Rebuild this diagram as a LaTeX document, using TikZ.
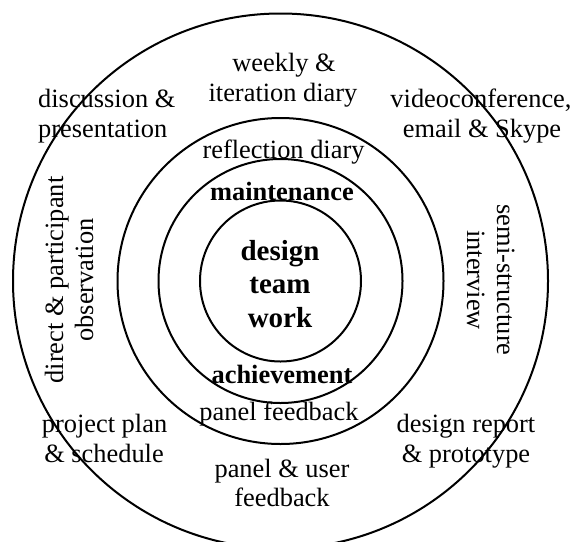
\documentclass[tikz,border=0pt]{standalone}
\usepackage{fontspec}
\setmainfont{Liberation Serif}
\begin{document}
\begin{tikzpicture}[x=1pt,y=-1pt,
  ring/.style={line width=2pt},
  lbl/.style={inner sep=0pt, anchor=base, font=\fontsize{26.4}{30}\selectfont},
  boldlbl/.style={inner sep=0pt, anchor=base, font=\fontsize{26.4}{30}\selectfont\bfseries},
  core/.style={inner sep=0pt, anchor=base, font=\fontsize{29}{33}\selectfont\bfseries}]
\useasboundingbox (0,0) rectangle (575,541);
\clip (0,0) rectangle (575,541);
\coordinate (c) at (280.5,281);
\draw[ring] (c) circle[radius=80.5pt];
\draw[ring] (c) circle[radius=122pt];
\draw[ring] (c) circle[radius=163pt];
\draw[ring] (c) circle[radius=267.5pt];
% outer ring
\node[lbl] (wk1) at (284,71) {weekly \&};
\node[lbl] (wk2) at (283,101) {iteration diary};
\node[lbl, anchor=base west] (ds1) at (38,107) {discussion \&};
\node[lbl, anchor=base west] (ds2) at (38,137) {presentation};
\node[lbl] (vc1) at (481,107) {videoconference,};
\node[lbl] (vc2) at (482,137) {email \& Skype};
\node[lbl, rotate=90] (ob1) at (63,280) {direct \& participant};
\node[lbl, rotate=90] (ob2) at (93,280) {observation};
\node[lbl, rotate=-90] (si1) at (497,280) {semi-structure};
\node[lbl, rotate=-90] (si2) at (467,280) {interview};
\node[lbl] (pp1) at (104.5,432) {project plan};
\node[lbl] (pp2) at (104,462) {\& schedule};
\node[lbl] (dr1) at (466,432) {design report};
\node[lbl] (dr2) at (466,462) {\& prototype};
\node[lbl] (pu1) at (282,477) {panel \& user};
\node[lbl] (pu2) at (282,506) {feedback};
% middle rings
\node[lbl] (rf) at (283.5,158) {reflection diary};
\node[boldlbl] (mt) at (282,200) {maintenance};
\node[boldlbl] (ac) at (282,383) {achievement};
\node[lbl] (pf) at (279,420) {panel feedback};
% core
\node[core] (d1) at (280,260) {design};
\node[core] (d2) at (280,293.5) {team};
\node[core] (d3) at (280,327) {work};
\end{tikzpicture}
\end{document}
